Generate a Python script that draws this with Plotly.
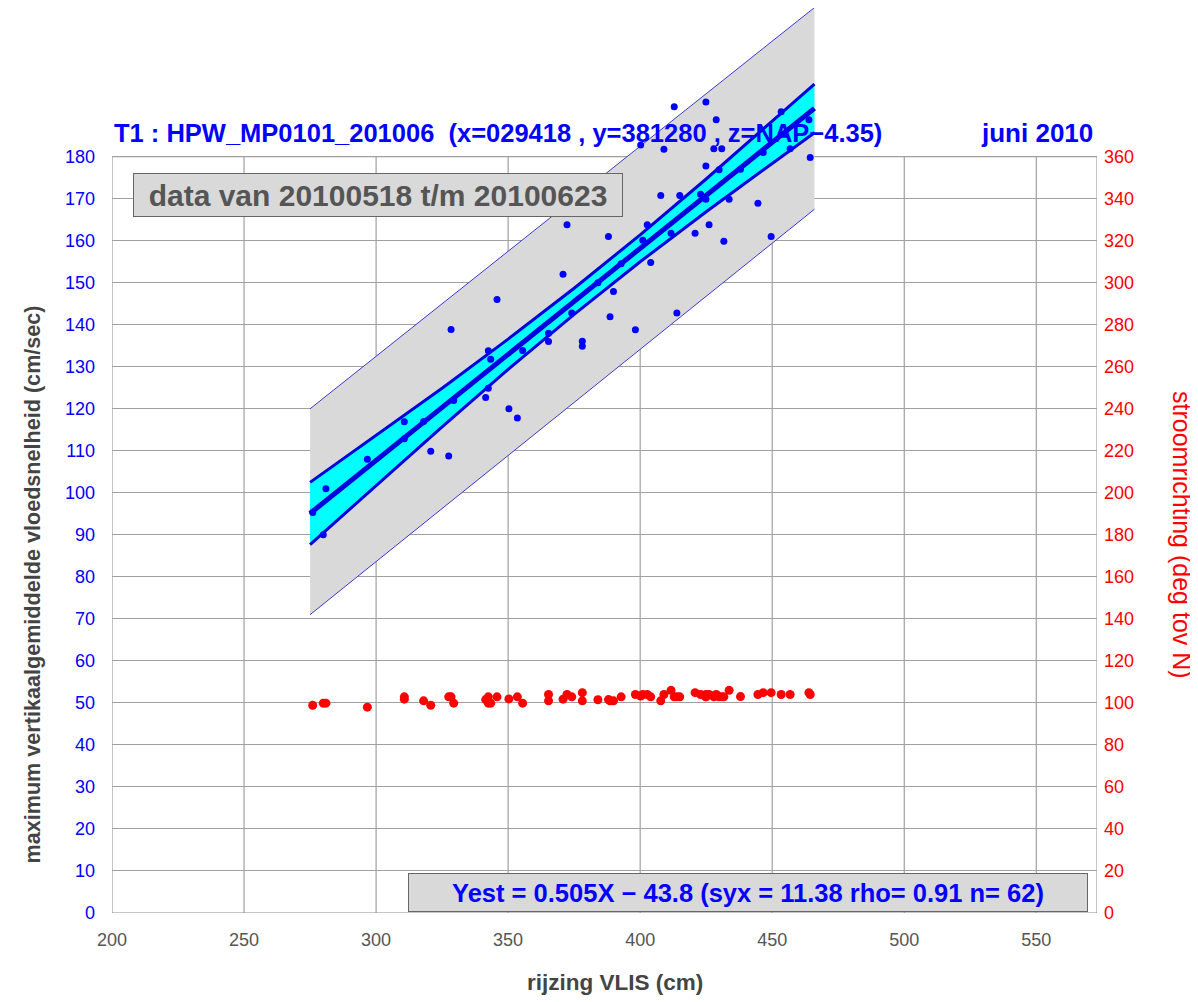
import plotly.graph_objects as go

# rijzing VLIS (cm), max vloedsnelheid (cm/sec), stroomrichting (deg tov N)
vlis = [276, 280, 281, 296.7, 310.7, 310.7, 318, 320.7, 327.5, 328.4, 329.4,
        341.5, 342.5, 342.5, 343.4, 345.8, 350.3, 353.5, 355.5, 365.3, 365.3,
        370.8, 372.3, 374.1, 378.1, 378.1, 384, 388, 388.6, 389.9, 392.8, 398.2,
        400.2, 401, 402.7, 404, 407.8, 409, 411.7, 412.9, 413.9, 415, 420.8,
        422.9, 424.9, 424.9, 424.9, 426.1, 427.9, 428.8, 429.9, 430.9, 431.7,
        433.7, 438, 444.6, 446.6, 449.6, 453.4, 456.8, 463.9, 464.4]
snelheid = [95.3, 90, 101, 108, 116.9, 112.9, 117, 109.9, 108.8, 138.9, 122,
            122.7, 124.9, 133.8, 131.8, 146, 120, 117.8, 133.9, 138, 136,
            152, 163.8, 142.8, 136.1, 134.9, 150, 161, 141.9, 147.9, 154.5, 138.8,
            182.8, 160.1, 163.8, 154.8, 170.8, 181.8, 161.8, 191.9, 142.8, 170.8, 161.8,
            171.1, 169.9, 177.8, 193, 163.8, 181.9, 188.8, 176.9, 181.9, 159.9,
            169.9, 177, 168.9, 181, 161, 190.7, 181.9, 188.8, 179.8]
richting = [98.9, 99.9, 99.9, 98, 102.9, 101.8, 101, 98.9, 102.9, 102.9, 99.9,
            101.6, 99.9, 102.9, 99.9, 102.9, 101.9, 102.9, 99.9, 104, 101,
            101.8, 104, 102.9, 104.9, 101, 101.5, 101.6, 101, 101, 102.9, 104,
            103.3, 104, 104, 102.9, 101, 104, 106, 102.9, 102.9, 102.9, 104.9,
            104, 102.9, 102.9, 104, 104, 102.9, 104, 102.9, 102.9, 102.9,
            106, 103, 104, 104.9, 104.9, 104, 104, 104.9, 104]

# regressielijn en banden
fit_x = [275, 466]
fit_y = [95.1, 191.5]
pred_upper = [120, 215.5]
pred_lower = [71, 167.5]
band_x = [275, 300, 325, 350, 375, 400, 425, 450, 466]
conf_upper = [102.5, 113.6, 124.9, 136.6, 148.7, 161.4, 174.7, 188.5, 197.3]
conf_lower = [87.7, 101.8, 115.7, 129.4, 142.5, 155.0, 166.9, 178.4, 185.7]

x_ticks = [200, 250, 300, 350, 400, 450, 500, 550]
y_ticks = list(range(0, 190, 10))
y2_ticks = list(range(0, 380, 20))

FONT = "Liberation Sans, Arial, sans-serif"
XMAX = 573
YMAX = 215.4  # plot area runs to the top of the page so the bands are not clipped

fig = go.Figure()

fig.add_trace(go.Scatter(x=fit_x, y=pred_lower, mode="lines",
                         line=dict(color="#3a3ad0", width=1)))
fig.add_trace(go.Scatter(x=fit_x, y=pred_upper, mode="lines", fill="tonexty",
                         fillcolor="#d9d9d9", line=dict(color="#3a3ad0", width=1)))
fig.add_trace(go.Scatter(x=band_x, y=conf_lower, mode="lines",
                         line=dict(color="#0000dd", width=3)))
fig.add_trace(go.Scatter(x=band_x, y=conf_upper, mode="lines", fill="tonexty",
                         fillcolor="#00ffff", line=dict(color="#0000dd", width=3)))
fig.add_trace(go.Scatter(x=fit_x, y=fit_y, mode="lines",
                         line=dict(color="#0000dd", width=5)))
fig.add_trace(go.Scatter(x=vlis, y=snelheid, mode="markers", cliponaxis=False,
                         marker=dict(color="#0000ff", size=7)))
fig.add_trace(go.Scatter(x=vlis, y=richting, mode="markers", yaxis="y2",
                         marker=dict(color="#ff0000", size=9)))

# vertical grid and frame only over the 0-180 part
for xv in x_ticks[1:]:
    fig.add_shape(type="line", x0=xv, x1=xv, y0=0, y1=180, xref="x", yref="y",
                  line=dict(color="#8c8c8c", width=1), layer="below")
fig.add_shape(type="rect", x0=200, x1=XMAX, y0=0, y1=180, xref="x", yref="y",
              line=dict(color="#8c8c8c", width=1), layer="below")

fig.update_layout(
    width=1198, height=1002,
    margin=dict(l=104, r=109, t=0, b=97),
    paper_bgcolor="white", plot_bgcolor="white",
    showlegend=False,
    font=dict(family=FONT),
    xaxis=dict(range=[200, XMAX], tickvals=x_ticks, showgrid=False, zeroline=False,
               showline=False, tickfont=dict(size=18, color="#555555"),
               ticklabelstandoff=14),
    yaxis=dict(range=[0, YMAX], tickvals=y_ticks, showgrid=True, gridcolor="#a0a0a0",
               zeroline=False, showline=False, tickfont=dict(size=18, color="#0000ff"),
               ticklabelstandoff=16),
    yaxis2=dict(range=[0, 2 * YMAX], tickvals=y2_ticks, overlaying="y", side="right",
                showgrid=False, zeroline=False, showline=False,
                tickfont=dict(size=18, color="#ff0000"), ticklabelstandoff=6),
)

ann = [
    dict(text="<b>T1 : HPW_MP0101_201006  (x=029418 , y=381280 , z=NAP\u22124.35)</b>",
         x=200, y=185.7, xanchor="left", yanchor="middle",
         font=dict(size=25.5, color="#0000ff", family=FONT), xref="x", yref="y"),
    dict(text="<b>juni 2010</b>", x=572.3, y=185.7, xanchor="right", yanchor="middle",
         font=dict(size=26, color="#0000ff", family=FONT), xref="x", yref="y"),
    dict(text="<b>data van 20100518 t/m 20100623</b>", x=208, y=176.2,
         xanchor="left", yanchor="top", xref="x", yref="y",
         font=dict(size=30, color="#555555", family=FONT),
         bgcolor="#d9d9d9", bordercolor="#666666", borderwidth=1, borderpad=3,
         width=482, height=36),
    dict(text="<b>Yest = 0.505X \u2212 43.8 (syx = 11.38 rho= 0.91 n= 62)</b>",
         x=312.1, y=0.3, xanchor="left", yanchor="bottom", xref="x", yref="y",
         font=dict(size=25.5, color="#0000ff", family=FONT),
         bgcolor="#d9d9d9", bordercolor="#666666", borderwidth=1, borderpad=2,
         width=674, height=33),
    dict(text="<b>maximum vertikaalgemiddelde vloedsnelheid (cm/sec)</b>",
         x=-0.0812, y=0.363, xref="paper", yref="paper", textangle=-90,
         xanchor="center", yanchor="middle",
         font=dict(size=21.6, color="#444444", family=FONT)),
    dict(text="stroomrichting (deg tov N)", x=1.087, y=0.418, xref="paper",
         yref="paper", textangle=90, xanchor="center", yanchor="middle",
         font=dict(size=25, color="#ff0000", family=FONT)),
    dict(text="<b>rijzing VLIS (cm)</b>", x=0.511, y=-0.093, xref="paper",
         yref="paper", font=dict(size=22.5, color="#444444", family=FONT)),
]
for a in ann:
    a["showarrow"] = False
fig.update_layout(annotations=ann)

fig.write_html("out.html")
